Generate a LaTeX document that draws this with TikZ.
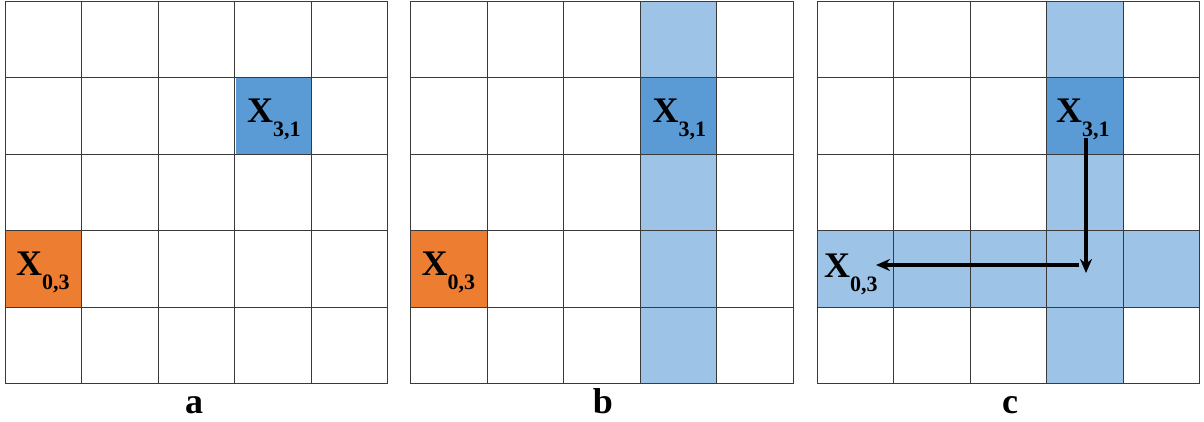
\documentclass[tikz,border=0pt]{standalone}
\usepackage{fontspec}
\setmainfont{Liberation Serif}
\usetikzlibrary{arrows.meta}
\definecolor{orng}{HTML}{ED7D31}
\definecolor{dblue}{HTML}{5B9BD5}
\definecolor{lblue}{HTML}{9DC3E6}
\definecolor{gridc}{HTML}{3A3A3A}
\newcommand\subsc[1]{\raisebox{-14pt}{\fontsize{22}{22}\selectfont\bfseries #1}}
\tikzset{
  lbl/.style={inner sep=0pt, anchor=base west, font=\fontsize{36}{36}\selectfont\bfseries},
  captext/.style={inner sep=0pt, anchor=base, font=\fontsize{36}{36}\selectfont\bfseries},
  gridline/.style={draw=gridc, line width=1pt},
  arr/.style={line width=3.4pt, -{Stealth[length=14pt,width=12pt]}}
}
\begin{document}
\begin{tikzpicture}[x=1pt,y=-1pt]
\useasboundingbox (0,0) rectangle (1204,421);
\def\cs{76.5}
% ---- grid a ----
\fill[dblue] (235.5,77.5) rectangle ++(\cs,\cs);
\fill[orng] (5,230.5) rectangle ++(\cs,\cs);
% ---- grid b ----
\fill[lblue] (410.5+229.5,1) rectangle ++(\cs,382.5);
\fill[dblue] (410.5+229.5,77.5) rectangle ++(\cs,\cs);
\fill[orng] (410.5,230.5) rectangle ++(\cs,\cs);
% ---- grid c ----
\fill[lblue] (817+229.5,1) rectangle ++(\cs,382.5);
\fill[lblue] (817,230.5) rectangle ++(382.5,\cs);
\fill[dblue] (817+229.5,77.5) rectangle ++(\cs,\cs);
% grid lines
\foreach \ox in {5,410.5,817}{
  \foreach \i in {0,...,5}{
    \draw[gridline] (\ox+\i*\cs,1) -- (\ox+\i*\cs,383.5);
    \draw[gridline] (\ox,1+\i*\cs) -- (\ox+382.5,1+\i*\cs);
  }
}
% labels
\node[lbl] (a31) at (247,122) {X\subsc{3,1}};
\node[lbl] (a03) at (16,275) {X\subsc{0,3}};
\node[lbl] (b31) at (652.5,122) {X\subsc{3,1}};
\node[lbl] (b03) at (421.5,275) {X\subsc{0,3}};
\node[lbl] (c31) at (1056,122) {X\subsc{3,1}};
\node[lbl] (c03) at (824,277) {X\subsc{0,3}};
\node[captext] (capa) at (194,413) {a};
\node[captext] (capb) at (603,413) {b};
\node[captext] (capc) at (1010,413) {c};
% arrows
\coordinate (vs) at (1086,138);
\coordinate (ve) at (1086,273);
\coordinate (hs) at (1079,265);
\coordinate (he) at (876,265);
\draw[arr] (vs) -- (ve);
\draw[arr] (hs) -- (he);
\end{tikzpicture}
\end{document}
